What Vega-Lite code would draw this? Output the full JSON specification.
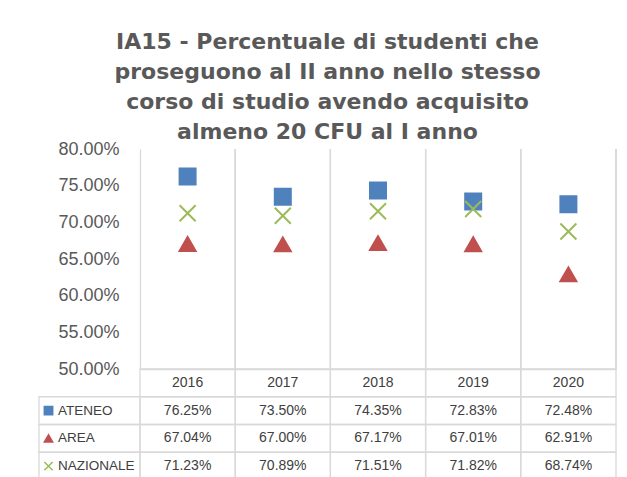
{
  "$schema": "https://vega.github.io/schema/vega-lite/v6.json",
  "padding": {"left": 38, "top": 31, "right": 12, "bottom": 0},
  "background": "white",
  "datasets": {
    "vals": [
      {"year": "2016", "series": "ATENEO", "value": 0.7625},
      {"year": "2016", "series": "AREA", "value": 0.6704},
      {"year": "2016", "series": "NAZIONALE", "value": 0.7123},
      {"year": "2017", "series": "ATENEO", "value": 0.7350},
      {"year": "2017", "series": "AREA", "value": 0.6700},
      {"year": "2017", "series": "NAZIONALE", "value": 0.7089},
      {"year": "2018", "series": "ATENEO", "value": 0.7435},
      {"year": "2018", "series": "AREA", "value": 0.6717},
      {"year": "2018", "series": "NAZIONALE", "value": 0.7151},
      {"year": "2019", "series": "ATENEO", "value": 0.7283},
      {"year": "2019", "series": "AREA", "value": 0.6701},
      {"year": "2019", "series": "NAZIONALE", "value": 0.7182},
      {"year": "2020", "series": "ATENEO", "value": 0.7248},
      {"year": "2020", "series": "AREA", "value": 0.6291},
      {"year": "2020", "series": "NAZIONALE", "value": 0.6874}
    ]
  },
  "title": {
    "text": ["IA15 - Percentuale di studenti che", "proseguono al II anno nello stesso", "corso di studio avendo acquisito", "almeno 20 CFU al I anno"],
    "font": "DejaVu Sans",
    "fontSize": 22,
    "fontWeight": "bold",
    "color": "#595959",
    "lineHeight": 30,
    "anchor": "middle",
    "offset": -4
  },
  "columns": 2,
  "spacing": 0,
  "bounds": "flush",
  "resolve": {"scale": {"x": "independent", "y": "independent", "color": "independent", "shape": "independent"}},
  "concat": [
    {
      "width": 101,
      "height": 220,
      "data": {"values": [{}]},
      "mark": "text",
      "encoding": {"text": {"value": ""}}
    },
    {
      "width": 476,
      "height": 220,
      "data": {"name": "vals"},
      "layer": [
        {
          "mark": {"type": "rule", "color": "#D9D9D9", "strokeWidth": 1.3},
          "encoding": {
            "x": {"field": "year", "type": "nominal", "bandPosition": 1,
              "scale": {"type": "band", "paddingInner": 0, "paddingOuter": 0},
              "axis": {"orient": "bottom", "labels": false, "ticks": false, "title": null, "domainColor": "#D9D9D9", "domainWidth": 1.3, "grid": false}}
          }
        },
        {
          "mark": {"type": "point", "filled": true, "size": 256, "strokeWidth": 2, "opacity": 1},
          "encoding": {
            "x": {"field": "year", "type": "nominal"},
            "y": {"field": "value", "type": "quantitative",
              "scale": {"domain": [0.5, 0.8], "nice": false, "zero": false},
              "axis": {"values": [0.5, 0.55, 0.6, 0.65, 0.7, 0.75, 0.8], "format": ".2%", "grid": false, "ticks": false, "title": null,
                "domainColor": "#D9D9D9", "domainWidth": 1.3, "labelFont": "Liberation Sans", "labelFontSize": 18, "labelColor": "#595959", "labelPadding": 21}},
            "shape": {"field": "series", "type": "nominal",
              "scale": {"domain": ["ATENEO", "AREA", "NAZIONALE"], "range": ["square", "triangle-up", "M-1,-1L1,1M-1,1L1,-1"]}, "legend": null},
            "color": {"field": "series", "type": "nominal",
              "scale": {"domain": ["ATENEO", "AREA", "NAZIONALE"], "range": ["#4F81BD", "#C0504D", "#9BBB59"]}, "legend": null},
            "stroke": {"field": "series", "type": "nominal",
              "scale": {"domain": ["ATENEO", "AREA", "NAZIONALE"], "range": ["#4F81BD", "#C0504D", "#9BBB59"]}, "legend": null}
          }
        }
      ]
    },
    {
      "width": 101,
      "height": 111,
      "data": {"name": "vals"},
      "transform": [{"aggregate": [{"op": "count", "as": "n"}], "groupby": ["series"]}],
      "layer": [
        {
          "mark": {"type": "rect", "fill": "white", "fillOpacity": 0, "stroke": "#D9D9D9", "strokeWidth": 1.3},
          "encoding": {
            "y": {"field": "series", "type": "nominal",
              "scale": {"type": "band", "domain": ["hdr", "ATENEO", "AREA", "NAZIONALE"], "paddingInner": 0, "paddingOuter": 0}, "axis": null}
          }
        },
        {
          "mark": {"type": "point", "filled": true, "size": 70, "strokeWidth": 1.5, "opacity": 1, "xOffset": -41},
          "encoding": {
            "y": {"field": "series", "type": "nominal"},
            "shape": {"field": "series", "type": "nominal",
              "scale": {"domain": ["ATENEO", "AREA", "NAZIONALE"], "range": ["square", "triangle-up", "M-1,-1L1,1M-1,1L1,-1"]}, "legend": null},
            "color": {"field": "series", "type": "nominal",
              "scale": {"domain": ["ATENEO", "AREA", "NAZIONALE"], "range": ["#4F81BD", "#C0504D", "#9BBB59"]}, "legend": null},
            "stroke": {"field": "series", "type": "nominal",
              "scale": {"domain": ["ATENEO", "AREA", "NAZIONALE"], "range": ["#4F81BD", "#C0504D", "#9BBB59"]}, "legend": null}
          }
        },
        {
          "mark": {"type": "text", "align": "left", "baseline": "middle", "dx": -31.5, "font": "Liberation Sans", "fontSize": 13.5, "color": "#404040"},
          "encoding": {
            "y": {"field": "series", "type": "nominal"},
            "text": {"field": "series"}
          }
        }
      ]
    },
    {
      "width": 476,
      "height": 111,
      "data": {"name": "vals"},
      "encoding": {
        "x": {"field": "year", "type": "nominal", "scale": {"type": "band", "paddingInner": 0, "paddingOuter": 0}, "axis": null}
      },
      "layer": [
        {
          "mark": {"type": "rect", "fill": "white", "fillOpacity": 0, "stroke": "#D9D9D9", "strokeWidth": 1.3},
          "encoding": {
            "y": {"field": "series", "type": "nominal",
              "scale": {"type": "band", "domain": ["hdr", "ATENEO", "AREA", "NAZIONALE"], "paddingInner": 0, "paddingOuter": 0}, "axis": null}
          }
        },
        {
          "mark": {"type": "text", "baseline": "middle", "font": "Liberation Sans", "fontSize": 14, "color": "#404040"},
          "encoding": {
            "y": {"field": "series", "type": "nominal"},
            "text": {"field": "value", "type": "quantitative", "format": ".2%"}
          }
        },
        {
          "transform": [{"aggregate": [{"op": "count", "as": "n"}], "groupby": ["year"]}],
          "mark": {"type": "rect", "fill": "white", "fillOpacity": 0, "stroke": "#D9D9D9", "strokeWidth": 1.3},
          "encoding": {
            "y": {"datum": "hdr", "type": "nominal"}
          }
        },
        {
          "transform": [{"aggregate": [{"op": "count", "as": "n"}], "groupby": ["year"]}],
          "mark": {"type": "text", "baseline": "middle", "font": "Liberation Sans", "fontSize": 14, "color": "#404040"},
          "encoding": {
            "y": {"datum": "hdr", "type": "nominal"},
            "text": {"field": "year"}
          }
        }
      ]
    }
  ],
  "config": {
    "view": {"stroke": null},
    "font": "Liberation Sans"
  }
}
